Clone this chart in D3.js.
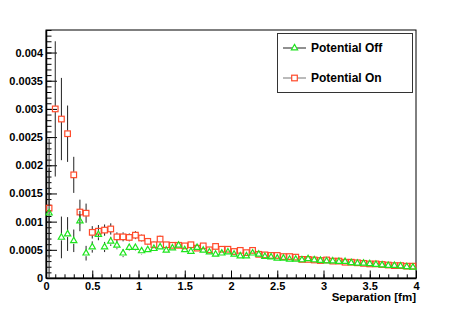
<!DOCTYPE html>
<html>
<head>
<meta charset="utf-8">
<script src="https://cdn.jsdelivr.net/npm/d3@7"></script>
<style>
  body { margin: 0; background: #fff; }
  svg text { font-family: "Liberation Sans", Arial, sans-serif; font-weight: bold; fill: #000; }
</style>
</head>
<body>
<svg id="chart" width="463" height="310"></svg>
<script>
// histogram binning: 60 bins from 0 to 4 fm
var xMin = 0, xMax = 4, nBins = 60;

// Potential On (red squares)
var potOn = [0.00124, 0.00300, 0.00282, 0.00256, 0.00183, 0.00117, 0.00115, 0.00081, 0.00083, 0.00085,
             0.00087, 0.00073, 0.00073, 0.00072, 0.00076, 0.00071, 0.00065, 0.00059, 0.00069, 0.00059,
             0.00058, 0.00058, 0.00057, 0.00059, 0.00053, 0.00057, 0.00050, 0.00056, 0.00051, 0.00051,
             0.00047, 0.00049, 0.00045, 0.00049, 0.00042, 0.00041, 0.00040, 0.00040, 0.00038, 0.00038,
             0.00037, 0.00033, 0.00033, 0.00032, 0.00031, 0.00032, 0.00030, 0.00030, 0.00028, 0.00028,
             0.00027, 0.00026, 0.00025, 0.00025, 0.00024, 0.00023, 0.00022, 0.00022, 0.00021, 0.00021];
var potOnErr = [0.00123, 0.00120, 0.00073, 0.00050, 0.00032, 0.00022, 0.00017, 0.00011, 0.00011, 0.00010,
                0.00010, 0.00008, 0.00008, 0.00007, 0.00007, 0.00006, 0.00006, 0.00006, 0.00006, 0.00005,
                0.00005, 0.00005, 0.00005, 0.00005, 0.00004, 0.00004, 0.00004, 0.00004, 0.00004, 0.00004,
                0.00004, 0.00003, 0.00003, 0.00003, 0.00003, 0.00003, 0.00003, 0.00003, 0.00003, 0.00003,
                0.00003, 0.00002, 0.00002, 0.00002, 0.00002, 0.00002, 0.00002, 0.00002, 0.00002, 0.00002,
                0.00002, 0.00002, 0.00002, 0.00002, 0.00002, 0.00002, 0.00002, 0.00002, 0.00002, 0.00002];

// Potential Off (green triangles), bin 1 is empty
var potOff = [0.00115, null, 0.00072, 0.00078, 0.00066, 0.00101, 0.00044, 0.00055, 0.00077, 0.00055,
              0.00065, 0.00058, 0.00044, 0.00054, 0.00054, 0.00048, 0.00050, 0.00052, 0.00055, 0.00049,
              0.00053, 0.00058, 0.00050, 0.00047, 0.00054, 0.00049, 0.00046, 0.00042, 0.00044, 0.00046,
              0.00042, 0.00039, 0.00039, 0.00044, 0.00042, 0.00038, 0.00037, 0.00035, 0.00035, 0.00033,
              0.00033, 0.00032, 0.00034, 0.00032, 0.00031, 0.00030, 0.00030, 0.00029, 0.00029, 0.00027,
              0.00026, 0.00026, 0.00025, 0.00024, 0.00023, 0.00022, 0.00022, 0.00021, 0.00020, 0.00019];
var potOffErr = [0.00080, null, 0.00037, 0.00030, 0.00020, 0.00018, 0.00013, 0.00010, 0.00010, 0.00009,
                 0.00008, 0.00007, 0.00007, 0.00006, 0.00006, 0.00006, 0.00005, 0.00005, 0.00005, 0.00005,
                 0.00005, 0.00005, 0.00004, 0.00004, 0.00004, 0.00004, 0.00004, 0.00004, 0.00003, 0.00003,
                 0.00003, 0.00003, 0.00003, 0.00003, 0.00003, 0.00003, 0.00003, 0.00003, 0.00003, 0.00002,
                 0.00002, 0.00002, 0.00002, 0.00002, 0.00002, 0.00002, 0.00002, 0.00002, 0.00002, 0.00002,
                 0.00002, 0.00002, 0.00002, 0.00002, 0.00002, 0.00002, 0.00002, 0.00002, 0.00002, 0.00002];

var xTicks = [0, 0.5, 1, 1.5, 2, 2.5, 3, 3.5, 4];
var yTicks = [0, 0.0005, 0.001, 0.0015, 0.002, 0.0025, 0.003, 0.0035, 0.004];
var xTitle = "Separation [fm]";
var legendLabels = ["Potential Off", "Potential On"];

var frame = {left: 46, right: 416, top: 30, bottom: 278};
var svg = d3.select("#chart");

var x = d3.scaleLinear().domain([xMin, xMax]).range([frame.left, frame.right]);
var y = d3.scaleLinear().domain([0, 0.0044]).range([frame.bottom, frame.top]);

function toPoints(vals, errs) {
    var bw = (xMax - xMin) / nBins;
    var pts = [];
    for (var i = 0; i < vals.length; i++) {
        if (vals[i] === null) continue;
        pts.push({x: xMin + (i + 0.5) * bw, v: vals[i], e: errs[i]});
    }
    return pts;
}

// frame
svg.append("rect")
    .attr("x", frame.left).attr("y", frame.top)
    .attr("width", frame.right - frame.left).attr("height", frame.bottom - frame.top)
    .attr("fill", "none").attr("stroke", "#000").attr("stroke-width", 1);

// y axis: major + minor ticks inside the frame
var yMinor = d3.range(0, 0.00441, 0.0001);
svg.append("g")
    .attr("transform", "translate(" + frame.left + ",0)")
    .call(d3.axisLeft(y).tickValues(yMinor).tickSizeInner(-5.5).tickSizeOuter(0).tickFormat(""))
    .call(function (g) { g.select(".domain").remove(); });
var yAxis = svg.append("g")
    .attr("transform", "translate(" + frame.left + ",0)")
    .call(d3.axisLeft(y).tickValues(yTicks).tickSizeInner(-11).tickSizeOuter(0).tickPadding(3)
        .tickFormat(function (d) { return d3.format("~g")(+d.toFixed(5)); }));
yAxis.select(".domain").attr("stroke-width", 1.5);
yAxis.selectAll("text").style("font-size", "11px");

// x axis
var xMinor = d3.range(0, 4.01, 0.1);
svg.append("g")
    .attr("transform", "translate(0," + frame.bottom + ")")
    .call(d3.axisBottom(x).tickValues(xMinor).tickSizeInner(-3.7).tickSizeOuter(0).tickFormat(""))
    .call(function (g) { g.select(".domain").remove(); });
var xAxis = svg.append("g")
    .attr("transform", "translate(0," + frame.bottom + ")")
    .call(d3.axisBottom(x).tickValues(xTicks).tickSizeInner(-7.5).tickSizeOuter(0).tickPadding(4)
        .tickFormat(d3.format("~g")));
xAxis.select(".domain").attr("stroke-width", 1.5);
xAxis.selectAll("text").style("font-size", "11px");

svg.append("text")
    .attr("x", frame.right).attr("y", 301)
    .attr("text-anchor", "end")
    .style("font-size", "11.5px")
    .text(xTitle);

// series
var series = [
    {name: legendLabels[1], pts: toPoints(potOn, potOnErr), color: "#ff4a2a", marker: "square", half: 3},
    {name: legendLabels[0], pts: toPoints(potOff, potOffErr), color: "#1ee41e", marker: "triangle", half: 3}
];

function drawMarker(g, kind, color) {
    if (kind === "square") {
        g.append("rect").attr("x", -2.8).attr("y", -2.8).attr("width", 5.6).attr("height", 5.6)
            .attr("fill", "none").attr("stroke", color).attr("stroke-width", 1.2);
    } else {
        g.append("path").attr("d", d3.symbol(d3.symbolTriangle, 17)())
            .attr("fill", "none").attr("stroke", color).attr("stroke-width", 1.2);
    }
}

series.forEach(function (s) {
    var g = svg.append("g");
    s.pts.forEach(function (p) {
        var cx = x(p.x), cy = y(p.v);
        var top = y(Math.min(p.v + p.e, 0.0044)), bot = y(Math.max(p.v - p.e, 0));
        if (cy - s.half > top) {
            g.append("line").attr("x1", cx).attr("x2", cx).attr("y1", top).attr("y2", cy - s.half)
                .attr("stroke", "#222").attr("stroke-width", 1);
        }
        if (bot > cy + s.half) {
            g.append("line").attr("x1", cx).attr("x2", cx).attr("y1", cy + s.half).attr("y2", bot)
                .attr("stroke", "#222").attr("stroke-width", 1);
        }
        var m = g.append("g").attr("transform", "translate(" + cx + "," + cy + ")");
        drawMarker(m, s.marker, s.color);
    });
});

// legend
var leg = svg.append("g");
leg.append("rect").attr("x", 277.5).attr("y", 33.5).attr("width", 135).attr("height", 59)
    .attr("fill", "#fff").attr("stroke", "#333").attr("stroke-width", 1);
var legItems = [
    {label: legendLabels[0], color: "#1ee41e", marker: "triangle", line: "#222", yy: 48},
    {label: legendLabels[1], color: "#ff4a2a", marker: "square", line: "#777", yy: 78}
];
legItems.forEach(function (d) {
    leg.append("line").attr("x1", 283).attr("x2", 306).attr("y1", d.yy).attr("y2", d.yy)
        .attr("stroke", d.line).attr("stroke-width", 1);
    var m = leg.append("g").attr("transform", "translate(294.5," + d.yy + ")");
    if (d.marker === "square") {
        m.append("rect").attr("x", -2.8).attr("y", -2.8).attr("width", 5.6).attr("height", 5.6)
            .attr("fill", "#fff").attr("stroke", d.color).attr("stroke-width", 1.2);
    } else {
        m.append("path").attr("d", d3.symbol(d3.symbolTriangle, 17)())
            .attr("fill", "#fff").attr("stroke", d.color).attr("stroke-width", 1.2);
    }
    leg.append("text").attr("x", 311).attr("y", d.yy + 4)
        .style("font-size", "12px").text(d.label);
});
</script>
</body>
</html>
